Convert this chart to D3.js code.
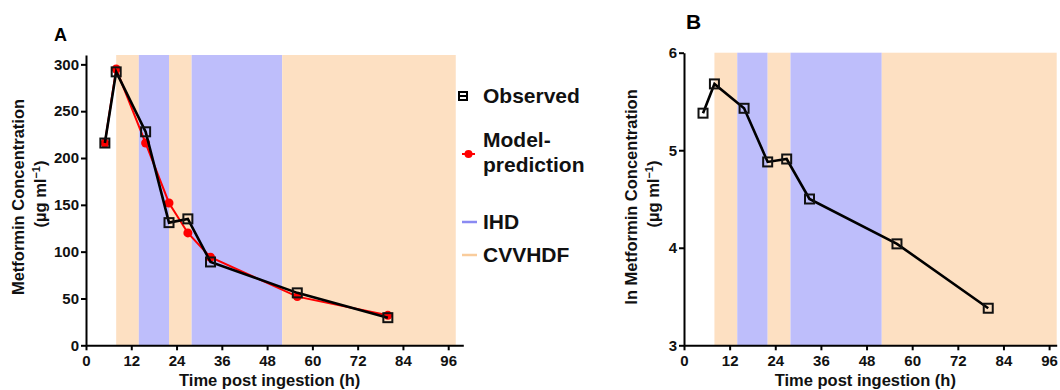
<!DOCTYPE html>
<html>
<head>
<meta charset="utf-8">
<script src="https://cdn.jsdelivr.net/npm/d3@7"></script>
<style>
  body { margin: 0; background: #fff; }
  svg { display: block; font-family: "Liberation Sans", Arial, sans-serif; }
</style>
</head>
<body>
<div id="chart"></div>
<script>
/*---------- DATA ----------*/
// Sampling times (h) and concentrations
const timePoints = [5, 8, 15.8, 22, 27, 33, 56, 80];
const observed = [216, 292, 228, 131, 135, 89, 56, 29.5];
const predicted = [216, 295, 216, 152, 120, 94, 52, 32];
const lnObserved = [5.38, 5.68, 5.43, 4.88, 4.91, 4.5, 4.04, 3.38];

// Dialysis periods
const bandStart = [8, 14, 22, 28, 52];
const bandEnd = [14, 22, 28, 52, 98];
const bandType = ["CVVHDF", "IHD", "CVVHDF", "IHD", "CVVHDF"];

// Ticks
const xTicks = [0, 12, 24, 36, 48, 60, 72, 84, 96];
const yTicksA = [0, 50, 100, 150, 200, 250, 300];
const yTicksB = [3, 4, 5, 6];

const bandColor = { IHD: "#bebefb", CVVHDF: "#fde0c2" };
const legendLineColor = { IHD: "#8a8af2", CVVHDF: "#f9cc9c" };

/*---------- SETUP ----------*/
const width = 1060;
const height = 390;

const svg = d3
  .select("#chart")
  .append("svg")
  .attr("width", width)
  .attr("height", height);

const bands = bandStart.map((s, i) => ({ start: s, end: bandEnd[i], type: bandType[i] }));

/**
 * Draw one panel: bands, axes and the data series
 */
function drawPanel(opts) {
  const x = d3.scaleLinear().domain(opts.xDomain).range(opts.xRange);
  const y = d3.scaleLinear().domain(opts.yDomain).range(opts.yRange);
  const g = svg.append("g");

  // Shaded dialysis bands
  g.selectAll("rect.band")
    .data(bands)
    .join("rect")
    .attr("class", "band")
    .attr("x", (d) => x(d.start))
    .attr("width", (d) => x(d.end) - x(d.start))
    .attr("y", y(opts.yDomain[1]))
    .attr("height", y(opts.yDomain[0]) - y(opts.yDomain[1]))
    .attr("fill", (d) => bandColor[d.type]);

  // Axes
  const xAxis = g
    .append("g")
    .attr("transform", `translate(0,${y(opts.yDomain[0])})`)
    .call(d3.axisBottom(x).tickValues(xTicks).tickSize(5).tickSizeOuter(0).tickPadding(5));
  const yAxis = g
    .append("g")
    .attr("transform", `translate(${x(0)},0)`)
    .call(
      d3.axisLeft(y).tickValues(opts.yTicks).tickFormat(d3.format("d"))
        .tickSize(5).tickSizeOuter(0).tickPadding(2)
    );

  [xAxis, yAxis].forEach((a) => {
    a.select(".domain").attr("stroke", "#000").attr("stroke-width", 2);
    a.selectAll(".tick line").attr("stroke", "#000").attr("stroke-width", 2);
    a.selectAll(".tick text")
      .attr("fill", "#111")
      .attr("font-size", "15px")
      .attr("font-weight", "bold");
  });

  // Axis titles
  g.append("text")
    .attr("x", (opts.xRange[0] + opts.xRange[1]) / 2 - 5)
    .attr("y", 386)
    .attr("text-anchor", "middle")
    .attr("font-size", "16.5px")
    .attr("font-weight", "bold")
    .attr("fill", "#111")
    .text("Time post ingestion (h)");

  const yMid = 197;
  g.append("text")
    .attr("transform", `translate(${opts.titleX1},${yMid}) rotate(-90)`)
    .attr("text-anchor", "middle")
    .attr("font-size", "16.5px")
    .attr("font-weight", "bold")
    .attr("fill", "#111")
    .text(opts.yTitle);
  const t2 = g.append("text")
    .attr("transform", `translate(${opts.titleX1 + 22},${yMid - 3}) rotate(-90)`)
    .attr("text-anchor", "middle")
    .attr("font-size", "16.5px")
    .attr("font-weight", "bold")
    .attr("fill", "#111");
  t2.append("tspan").text("(\u00b5g ml");
  t2.append("tspan").attr("dy", -6).attr("font-size", "11px").text("\u22121");
  t2.append("tspan").attr("dy", 6).text(")");

  // Panel letter
  g.append("text")
    .attr("x", opts.letterX)
    .attr("y", opts.letterY)
    .attr("font-size", opts.letterSize)
    .attr("font-weight", "bold")
    .attr("fill", "#000")
    .text(opts.letter);

  // Model prediction (red)
  if (opts.pred) {
    const predData = timePoints.map((t, i) => ({ t: t, v: opts.pred[i] }));
    g.append("path")
      .datum(predData)
      .attr("fill", "none")
      .attr("stroke", "#f00")
      .attr("stroke-width", 2)
      .attr("d", d3.line().x((d) => x(d.t)).y((d) => y(d.v)));
    g.selectAll("circle.pred")
      .data(predData)
      .join("circle")
      .attr("class", "pred")
      .attr("cx", (d) => x(d.t))
      .attr("cy", (d) => y(d.v))
      .attr("r", 4.5)
      .attr("fill", "#f00");
  }

  // Observed (black, open squares)
  const obsData = timePoints.map((t, i) => ({ t: t, v: opts.obs[i] }));
  g.append("path")
    .datum(obsData)
    .attr("fill", "none")
    .attr("stroke", "#000")
    .attr("stroke-width", 2.6)
    .attr("d", d3.line().x((d) => x(d.t)).y((d) => y(d.v)));
  const s = 9;
  g.selectAll("rect.obs")
    .data(obsData)
    .join("rect")
    .attr("class", "obs")
    .attr("x", (d) => x(d.t) - s / 2)
    .attr("y", (d) => y(d.v) - s / 2)
    .attr("width", s)
    .attr("height", s)
    .attr("fill", "none")
    .attr("stroke", "#111")
    .attr("stroke-width", 2);
}

/*---------- PLOTTING ----------*/
drawPanel({
  xDomain: [0, 100],
  xRange: [86, 463.3],
  yDomain: [0, 310],
  yRange: [345.3, 55],
  yTicks: yTicksA,
  yTitle: "Metformin Concentration",
  titleX1: 24,
  letter: "A",
  letterX: 54,
  letterY: 41,
  letterSize: "18px",
  obs: observed,
  pred: predicted,
});

drawPanel({
  xDomain: [0, 98],
  xRange: [684, 1056.7],
  yDomain: [3, 6],
  yRange: [345.3, 52.7],
  yTicks: yTicksB,
  yTitle: "ln Metformin Concentration",
  titleX1: 637,
  letter: "B",
  letterX: 686,
  letterY: 29,
  letterSize: "21px",
  obs: lnObserved,
  pred: null,
});

/*---------- LEGEND ----------*/
const legend = svg.append("g").attr("font-weight", "bold").attr("font-size", "21px").attr("fill", "#111");

// Observed
legend.append("line").attr("x1", 458).attr("x2", 468).attr("y1", 96).attr("y2", 96)
  .attr("stroke", "#000").attr("stroke-width", 2);
legend.append("rect").attr("x", 459).attr("y", 92).attr("width", 8).attr("height", 8)
  .attr("fill", "none").attr("stroke", "#000").attr("stroke-width", 2);
legend.append("text").attr("x", 483).attr("y", 103).text("Observed");

// Model prediction
legend.append("line").attr("x1", 462).attr("x2", 475).attr("y1", 154).attr("y2", 154)
  .attr("stroke", "#f00").attr("stroke-width", 2);
legend.append("circle").attr("cx", 468.5).attr("cy", 154).attr("r", 4).attr("fill", "#f00");
legend.append("text").attr("x", 483).attr("y", 147).text("Model-");
legend.append("text").attr("x", 483).attr("y", 172).text("prediction");

// Dialysis types
["IHD", "CVVHDF"].forEach((k, i) => {
  const yy = 222 + i * 33;
  legend.append("line").attr("x1", 462).attr("x2", 477).attr("y1", yy).attr("y2", yy)
    .attr("stroke", legendLineColor[k]).attr("stroke-width", 2.5);
  legend.append("text").attr("x", 483).attr("y", yy + 7).text(k);
});
</script>
</body>
</html>
